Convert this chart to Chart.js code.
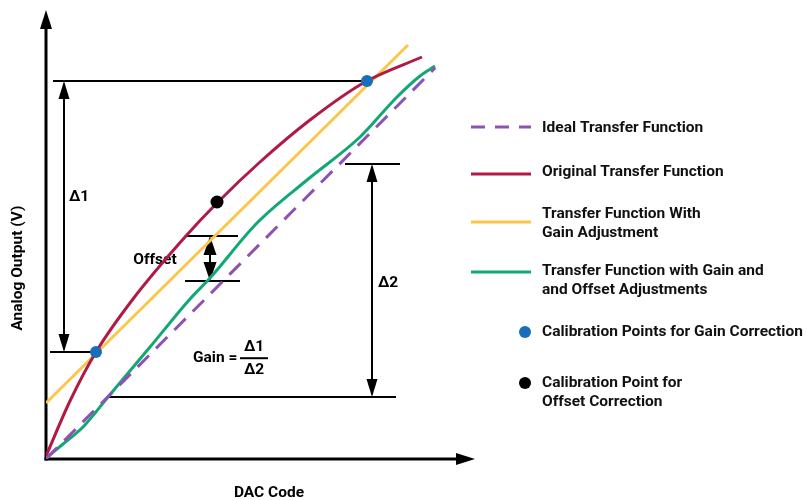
<!DOCTYPE html>
<html lang="en">
<head>
  <meta charset="UTF-8">
  <title>DAC Gain and Offset Calibration</title>
  <script src="https://cdn.jsdelivr.net/npm/chart.js"></script>
  <style>
    body { margin: 0; background: #fff; }
    canvas { display: block; }
  </style>
</head>
<body>
  <canvas id="dacChart" width="807" height="500"></canvas>

  <script>
    // DAC code (x) vs analog output (y), arbitrary units
    const idealX = [0, 97.3];
    const idealY = [0, 97.8];
    const originalX = [0, 6, 12.5, 21.75, 34.75, 42.75, 53.5, 66, 79.75, 94];
    const originalY = [0.75, 14.5, 26.75, 40, 55.5, 64, 74.25, 84.75, 94.25, 100.5];
    const gainX = [0, 90.5];
    const gainY = [14, 103.5];
    const gainOffsetX = [0, 4.25, 9.25, 15.5, 26, 36, 41, 52.75, 65.25, 78.5, 87.75, 93.5, 97.25];
    const gainOffsetY = [0.25, 3.75, 8, 15.5, 28, 40, 45.25, 59, 69.75, 80.5, 90.5, 95.75, 98.25];
    const gainCalX = [12.5, 80.25];
    const gainCalY = [26.75, 94.5];
    const offsetCalX = [42.75];
    const offsetCalY = [64.25];

    const seriesLabels = [
      ['Ideal Transfer Function'],
      ['Original Transfer Function'],
      ['Transfer Function With', 'Gain Adjustment'],
      ['Transfer Function with Gain and', 'and Offset Adjustments'],
      ['Calibration Points for Gain Correction'],
      ['Calibration Point for', 'Offset Correction']
    ];

    // guide lines [x1, y1, x2, y2] and dimension arrows [x, yLow, yHigh]
    const guideLines = [
      [1.75, 94.5, 80.25, 94.5],
      [1, 26.75, 12.5, 26.75],
      [34.75, 55.75, 48, 55.75],
      [34.75, 44.5, 48.5, 44.5],
      [74.75, 73.75, 88.5, 73.75],
      [15.25, 15.5, 87.5, 15.5]
    ];
    const dimArrows = [
      [4.5, 26.75, 94.5],
      [41, 44.5, 55.75],
      [81.5, 15.5, 73.75]
    ];
    // text labels [text, x, y, align]
    const notes = [
      ['Δ1', 5.75, 65.5, 'left'],
      ['Offset', 27.25, 49.75, 'center'],
      ['Δ2', 83, 44, 'left'],
      ['Gain =', 36.75, 25.2, 'left'],
      ['Δ1', 52, 28, 'center'],
      ['Δ2', 52, 22.2, 'center']
    ];
    const fractionBar = [48.5, 55.5, 25.2];

    const pts = (xs, ys) => xs.map((v, i) => ({ x: v, y: ys[i] }));

    function arrowHead(ctx, tx, ty, dx, dy, len, half) {
      ctx.beginPath();
      ctx.moveTo(tx, ty);
      ctx.lineTo(tx - dx * len - dy * half, ty - dy * len + dx * half);
      ctx.lineTo(tx - dx * len + dy * half, ty - dy * len - dx * half);
      ctx.closePath();
      ctx.fill();
    }

    function segment(ctx, x1, y1, x2, y2) {
      ctx.beginPath();
      ctx.moveTo(x1, y1);
      ctx.lineTo(x2, y2);
      ctx.stroke();
    }

    const diagramPlugin = {
      id: 'diagram',
      beforeDatasetsDraw(chart) {
        const { ctx, scales: { x, y } } = chart;
        const px = v => x.getPixelForValue(v);
        const py = v => y.getPixelForValue(v);
        ctx.save();
        ctx.strokeStyle = '#000';
        ctx.fillStyle = '#000';

        // axes with arrow heads
        ctx.lineWidth = 3;
        segment(ctx, px(0), py(0) + 1.5, px(0), py(y.max) + 16);
        segment(ctx, px(0) - 1.5, py(0), px(x.max) - 16, py(0));
        arrowHead(ctx, px(0), py(y.max), 0, -1, 19, 6);
        arrowHead(ctx, px(x.max), py(0), 1, 0, 19, 6);

        ctx.lineWidth = 2;
        guideLines.forEach(g => segment(ctx, px(g[0]), py(g[1]), px(g[2]), py(g[3])));
        dimArrows.forEach(a => {
          const short = py(a[1]) - py(a[2]) < 60;
          const len = short ? 19 : 18, half = short ? 6.5 : 5.5;
          segment(ctx, px(a[0]), py(a[1]) - len + 2, px(a[0]), py(a[2]) + len - 2);
          arrowHead(ctx, px(a[0]), py(a[1]), 0, 1, len, half);
          arrowHead(ctx, px(a[0]), py(a[2]), 0, -1, len, half);
        });
        segment(ctx, px(fractionBar[0]), py(fractionBar[2]), px(fractionBar[1]), py(fractionBar[2]));

        ctx.font = 'bold 15.5px Roboto';
        ctx.textBaseline = 'middle';
        notes.forEach(n => {
          ctx.textAlign = n[3];
          ctx.fillText(n[0], px(n[1]), py(n[2]));
        });

        // axis titles
        ctx.textAlign = 'center';
        ctx.font = 'bold 15.5px Roboto';
        ctx.fillText('DAC Code', 269, 493);
        ctx.translate(18, 268);
        ctx.rotate(-Math.PI / 2);
        ctx.fillText('Analog Output (V)', 0, 0);
        ctx.restore();
      },
      afterDraw(chart) {
        const { ctx } = chart;
        const sampleY = [127, 174, 222, 272, 332, 383];
        const textY = [128, 172, 214, 271, 332, 383];
        ctx.save();
        ctx.font = 'bold 15.5px Roboto';
        ctx.textAlign = 'left';
        ctx.textBaseline = 'middle';
        chart.data.datasets.forEach((ds, i) => {
          if (ds.showLine) {
            ctx.strokeStyle = ds.borderColor;
            ctx.lineWidth = 3;
            ctx.setLineDash(ds.borderDash ? [14, 10] : []);
            segment(ctx, 471, sampleY[i], 531, sampleY[i]);
            ctx.setLineDash([]);
          } else {
            ctx.fillStyle = ds.backgroundColor;
            ctx.beginPath();
            ctx.arc(525, sampleY[i], 6, 0, Math.PI * 2);
            ctx.fill();
          }
          ctx.fillStyle = '#111';
          seriesLabels[i].forEach((t, k) => ctx.fillText(t, 542, textY[i] + k * 19));
        });
        ctx.restore();
      }
    };

    const lineSet = (label, data, color, extra) => Object.assign({
      label: label,
      data: data,
      showLine: true,
      borderColor: color,
      backgroundColor: color,
      borderWidth: 3,
      pointRadius: 0,
      cubicInterpolationMode: 'monotone',
      order: 1
    }, extra || {});

    new Chart(document.getElementById('dacChart'), {
      type: 'scatter',
      data: {
        datasets: [
          lineSet(seriesLabels[0].join(' '), pts(idealX, idealY), '#8e52b3', { borderDash: [16, 10] }),
          lineSet(seriesLabels[1].join(' '), pts(originalX, originalY), '#b01a44'),
          lineSet(seriesLabels[2].join(' '), pts(gainX, gainY), '#fcc64a'),
          lineSet(seriesLabels[3].join(' '), pts(gainOffsetX, gainOffsetY), '#12a873'),
          {
            label: seriesLabels[4].join(' '),
            data: pts(gainCalX, gainCalY),
            backgroundColor: '#1a6db8',
            borderWidth: 0,
            pointRadius: 6,
            order: 0
          },
          {
            label: seriesLabels[5].join(' '),
            data: pts(offsetCalX, offsetCalY),
            backgroundColor: '#000',
            borderWidth: 0,
            pointRadius: 6.5,
            order: 0
          }
        ]
      },
      options: {
        responsive: false,
        animation: false,
        layout: { padding: { left: 46, right: 332, top: 10, bottom: 41 } },
        scales: {
          x: { type: 'linear', min: 0, max: 107.25, display: false },
          y: { type: 'linear', min: 0, max: 112.25, display: false }
        },
        plugins: {
          legend: { display: false },
          tooltip: { enabled: false }
        }
      },
      plugins: [diagramPlugin]
    });
  </script>
</body>
</html>
